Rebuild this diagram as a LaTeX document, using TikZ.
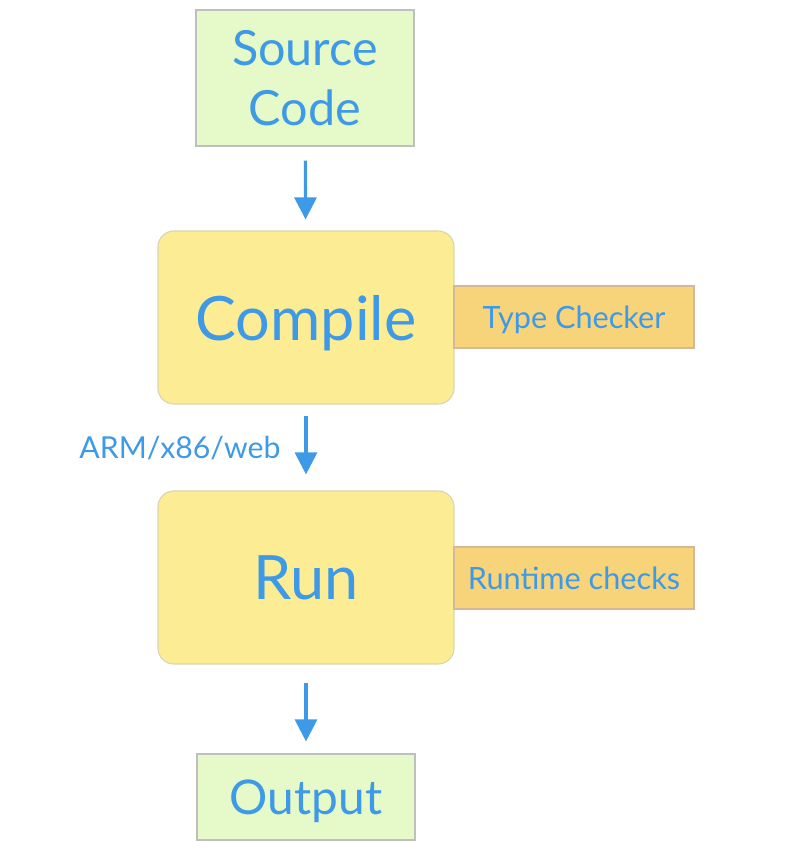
\documentclass[tikz,border=0pt]{standalone}
\usepackage{fontspec}
\setmainfont{Lato}
\usepackage{xcolor}
\usetikzlibrary{arrows.meta}
\usetikzlibrary{positioning}

\definecolor{txtblue}{HTML}{3E9AE6}
\definecolor{greenfill}{HTML}{E6F9C8}
\definecolor{yellowfill}{HTML}{FCEC94}
\definecolor{orangefill}{HTML}{F7D37A}

\tikzset{
	endbox/.style={draw=black!25, fill=greenfill, text=txtblue, line width=0.8pt, minimum width=5.45cm, align=center},
	stagebox/.style={draw=yellow!50!black!35, fill=yellowfill, text=txtblue, line width=0.8pt, rounded corners=0.4cm, minimum width=7.4cm, minimum height=4.325cm, text depth=0pt, font=\fontsize{43.5}{50}\selectfont},
	sidebox/.style={draw=orange!60!black!40, fill=orangefill, text=txtblue, line width=0.8pt, minimum width=6cm, minimum height=1.55cm, text depth=0pt, font=\fontsize{21.8}{26}\selectfont},
	flow/.style={draw=txtblue, line width=2.2pt, -{Triangle[width=0.55cm, length=0.55cm]}}
}

\begin{document}
\begin{tikzpicture}[x=0.025cm, y=-0.025cm]
	\useasboundingbox (0,0) rectangle (790,856);
	\node[endbox, minimum height=3.4cm, font=\fontsize{34.5}{42.7}\selectfont] at (305,78) (src){Source\\Code};
	\node[stagebox] at (306,317.5) (compile){Compile};
	\node[sidebox] at (574,317) (typecheck){Type Checker};
	\node[stagebox] at (306,577.5) (run){Run};
	\node[sidebox] at (574,578) (rtcheck){Runtime checks};
	\node[endbox, minimum height=2.15cm, text depth=0pt, font=\fontsize{34}{40}\selectfont] at (306,797) (out){Output};
	\node[text=txtblue, text depth=0pt, font=\fontsize{21.5}{26}\selectfont] at (180,447) (target){ARM/x86/web};
	\draw[flow, shorten <=0.35cm, shorten >=0.275cm] (src) -- (compile);
	\draw[flow, shorten <=0.275cm, shorten >=0.4cm] (compile) -- (run);
	\draw[flow, shorten <=0.45cm, shorten >=0.3cm] (run) -- (out);
\end{tikzpicture}
\end{document}
